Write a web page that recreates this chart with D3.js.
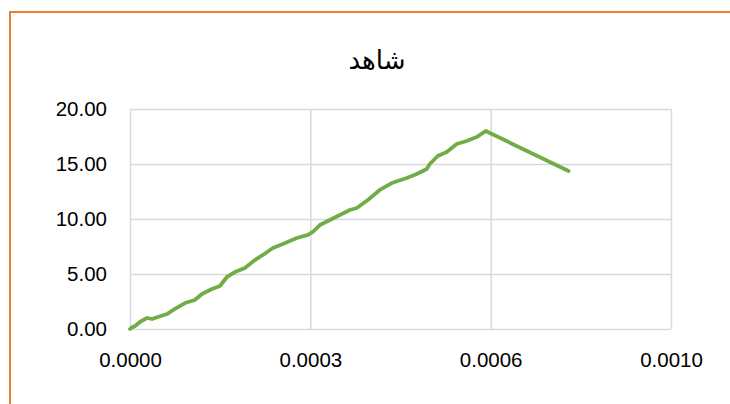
<!DOCTYPE html>
<html lang="en">
<head>
    <meta charset="UTF-8">
    <title>شاهد</title>
    <script src="https://d3js.org/d3.v7.min.js"></script>
    <style>
    body { margin: 0; background: #fff; }
    .tick text { font-family: "Liberation Sans", Arial, sans-serif; font-size: 20.5px; fill: #000; }
    </style>
</head>
<body>
<div class="content"></div>
<script>
// strain / stress samples
var strain = [0, 0.0000018, 0.0000089, 0.0000177, 0.0000301, 0.0000390, 0.0000496, 0.0000656,
    0.0000798, 0.0000975, 0.0001152, 0.0001276, 0.0001454, 0.0001596, 0.0001720, 0.0001862,
    0.0002039, 0.0002216, 0.0002358, 0.0002535, 0.0002713, 0.0002961, 0.0003156, 0.0003244,
    0.0003369, 0.0003546, 0.0003723, 0.0003900, 0.0004024, 0.0004220, 0.0004432, 0.0004645,
    0.0004911, 0.0005088, 0.0005266, 0.0005319, 0.0005461, 0.0005620, 0.0005797, 0.0005975,
    0.0006152, 0.0006312, 0.0007783];
var stress = [0, 0.09, 0.27, 0.64, 1.00, 0.91, 1.09, 1.36,
    1.82, 2.36, 2.64, 3.18, 3.64, 3.91, 4.73, 5.18,
    5.55, 6.27, 6.73, 7.36, 7.73, 8.27, 8.55, 8.82,
    9.45, 9.91, 10.36, 10.82, 11.00, 11.73, 12.64, 13.27,
    13.73, 14.09, 14.55, 15.00, 15.73, 16.09, 16.82, 17.09,
    17.45, 18.00, 14.36];
var xTicks = [0, 0.00032, 0.00064, 0.00096];
var yTicks = [0, 5, 10, 15, 20];
var chartTitle = "شاهد";

var W = 730, H = 404;
var m = { left: 130, right: 59, top: 109, bottom: 75 };

var svg = d3.select(".content").append("svg")
    .attr("width", W).attr("height", H);

// chart frame (orange, runs off the right and bottom edges)
svg.append("rect")
    .attr("x", 10).attr("y", 12)
    .attr("width", W + 20).attr("height", H + 20)
    .attr("fill", "#fff")
    .attr("stroke", "#ED7D31").attr("stroke-width", 2);

var x = d3.scaleLinear().domain([0, 0.00096]).range([m.left, W - m.right]);
var y = d3.scaleLinear().domain([0, 20]).range([H - m.bottom, m.top]);

// gridlines
svg.append("g")
    .attr("transform", "translate(0," + (H - m.bottom) + ")")
    .call(d3.axisBottom(x).tickValues(xTicks).tickSize(-(H - m.bottom - m.top)).tickFormat(""))
    .call(function(g) { g.select(".domain").remove(); })
    .selectAll("line").attr("stroke", "#d9d9d9").attr("stroke-width", 1.5);

svg.append("g")
    .attr("transform", "translate(" + m.left + ",0)")
    .call(d3.axisLeft(y).tickValues(yTicks).tickSize(-(W - m.right - m.left)).tickFormat(""))
    .call(function(g) { g.select(".domain").remove(); })
    .selectAll("line").attr("stroke", "#d9d9d9").attr("stroke-width", 1.5);

// axis labels
var xAxis = svg.append("g")
    .attr("transform", "translate(0," + (H - m.bottom) + ")")
    .call(d3.axisBottom(x).tickValues(xTicks).tickSize(0).tickPadding(23).tickFormat(d3.format(".4f")));
xAxis.select(".domain").remove();

var yAxis = svg.append("g")
    .attr("transform", "translate(" + m.left + ",0)")
    .call(d3.axisLeft(y).tickValues(yTicks).tickSize(0).tickPadding(23).tickFormat(d3.format(".2f")));
yAxis.select(".domain").remove();

// series
var pts = strain.map(function(d, i) { return [d, stress[i]]; });
svg.append("path")
    .datum(pts)
    .attr("fill", "none")
    .attr("stroke", "#70AD47")
    .attr("stroke-width", 3.8)
    .attr("stroke-linejoin", "round")
    .attr("stroke-linecap", "round")
    .attr("d", d3.line().x(function(d) { return x(d[0]); }).y(function(d) { return y(d[1]); }));

// title
svg.append("text")
    .attr("x", 377).attr("y", 69)
    .attr("text-anchor", "middle")
    .attr("direction", "rtl")
    .style("font-family", "'DejaVu Sans', sans-serif")
    .style("font-size", "26px")
    .text(chartTitle);
</script>
</body>
</html>
